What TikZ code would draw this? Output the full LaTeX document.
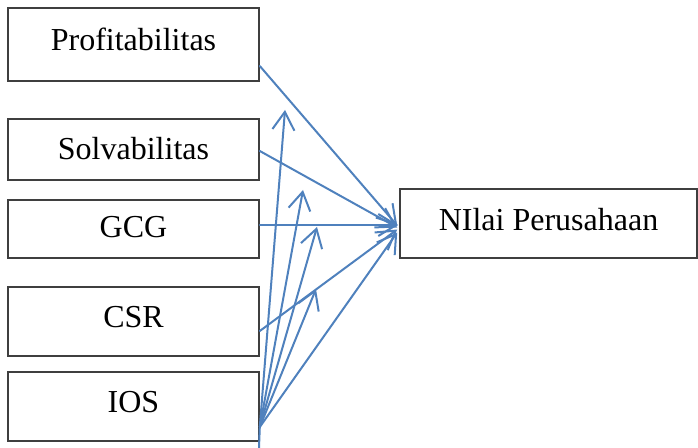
\documentclass[tikz,border=0pt]{standalone}
\usepackage{fontspec}
\setmainfont{Liberation Serif}
\usetikzlibrary{arrows.meta,calc}
\definecolor{lnblue}{HTML}{4F81BD}
\definecolor{bxgray}{HTML}{3F3F3F}
\begin{document}
\begin{tikzpicture}[x=0.5pt,y=-0.5pt,
  box/.style={draw=bxgray,line width=0.8pt,inner sep=0pt,minimum width=125.5pt,
    font=\fontsize{16}{19}\selectfont,text height=10.6pt},
  conn/.style={draw=lnblue,line width=1pt,line cap=round,
    -{Straight Barb[length=9pt,width=11pt,line width=1pt]}},
  plain/.style={draw=lnblue,line width=1pt}]
\useasboundingbox (0,0) rectangle (698,448);
\node[box,minimum height=36.5pt,text depth=5pt] (prof) at (133.5,44.5) {Profitabilitas};
\node[box,minimum height=30.5pt,text depth=0.5pt] (solv) at (133.5,149.5) {Solvabilitas};
\node[box,minimum height=29pt,text depth=2pt] (gcg) at (133.5,229) {GCG};
\node[box,minimum height=34.5pt,text depth=4.5pt] (csr) at (133.5,321.5) {CSR};
\node[box,minimum height=34.5pt,text depth=5pt] (ios) at (133.5,406.5) {IOS};
\node[box,minimum width=148.5pt,minimum height=34.5pt,text depth=4pt] (nil) at (548.5,223.5) {NIlai Perusahaan};
\coordinate (o) at ($(ios.east)+(0,20.5)$);
\coordinate (e1) at (285,110);
\coordinate (e2) at (303,190);
\coordinate (e3) at (317,227);
\coordinate (e4) at (316,289);
\coordinate (bot) at (259,448);
\draw[conn] ($(prof.east)+(0,21.5)$) -- ($(nil.west)+(-2,2)$);
\draw[conn] ($(solv.east)+(0,1.5)$) -- ($(nil.west)+(-2,4)$);
\draw[conn] ($(gcg.east)+(0,-4)$) -- ($(nil.west)+(-1,1.5)$);
\draw[conn] ($(csr.east)+(0,9.5)$) -- ($(nil.west)+(-2,6)$);
\draw[conn] (o) -- (e1);
\draw[conn] (o) -- (e2);
\draw[conn] (o) -- (e3);
\draw[conn] (o) -- (e4);
\draw[conn] (o) -- ($(nil.west)+(-2,9)$);
\draw[plain] (o) -- (bot);
\end{tikzpicture}
\end{document}
